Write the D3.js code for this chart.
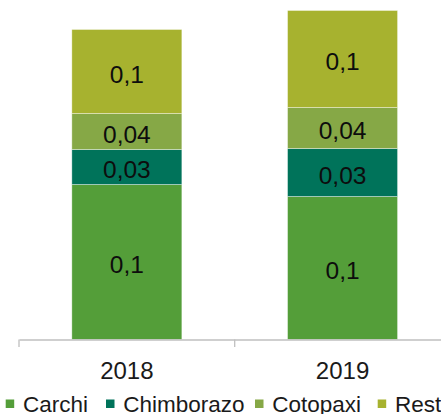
<!DOCTYPE html>
<html>
<head>
<meta charset="utf-8">
<script src="https://cdn.jsdelivr.net/npm/d3@7"></script>
<style>
  body { margin: 0; background: #fff; }
  svg { display: block; font-family: 'Century Gothic', 'Liberation Sans', Arial, sans-serif; }
</style>
</head>
<body>
<svg width="441" height="414"></svg>
<script>
const years = ['2018', '2019']
const series = ['Carchi', 'Chimborazo', 'Cotopaxi', 'Resto']
const carchi = [0.155, 0.143]
const chimborazo = [0.035, 0.048]
const cotopaxi = [0.036, 0.041]
const resto = [0.084, 0.097]
// data labels as printed on the chart
const carchiLabels = ['0,1', '0,1']
const chimborazoLabels = ['0,03', '0,03']
const cotopaxiLabels = ['0,04', '0,04']
const restoLabels = ['0,1', '0,1']

const colors = ['#549e39', '#00735a', '#86a846', '#a7b22f']

let svg = d3.select('svg')

let rows = years.map((y, i) => ({
  year: y,
  Carchi: carchi[i],
  Chimborazo: chimborazo[i],
  Cotopaxi: cotopaxi[i],
  Resto: resto[i]
}))
let labels = {
  Carchi: carchiLabels,
  Chimborazo: chimborazoLabels,
  Cotopaxi: cotopaxiLabels,
  Resto: restoLabels
}

let stacked = d3.stack().keys(series)(rows)

let x = d3.scaleBand()
    .domain(years)
    .range([19, 450.4])
    .padding(0)
let barW = x.bandwidth() * 0.51

let y = d3.scaleLinear()
    .domain([0, 0.33])
    .range([339.5, 9.5])

let color = d3.scaleOrdinal()
    .domain(series)
    .range(colors)

let layer = svg.append('g')
  .selectAll('g')
  .data(stacked)
  .enter().append('g')
    .attr('fill', d => color(d.key))

layer.selectAll('rect')
  .data(d => d.map((p, i) => ({ p: p, i: i, key: d.key })))
  .enter().append('rect')
    .attr('x', d => x(years[d.i]) + (x.bandwidth() - barW) / 2)
    .attr('width', barW)
    .attr('y', d => y(d.p[1]))
    .attr('height', d => y(d.p[0]) - y(d.p[1]))
    .attr('stroke', '#ffffff')
    .attr('stroke-opacity', 0.5)
    .attr('stroke-width', 0.75)

layer.selectAll('text')
  .data(d => d.map((p, i) => ({ p: p, i: i, key: d.key })))
  .enter().append('text')
    .attr('x', d => x(years[d.i]) + x.bandwidth() / 2)
    .attr('y', d => (y(d.p[0]) + y(d.p[1])) / 2)
    .attr('dy', '0.45em')
    .attr('text-anchor', 'middle')
    .attr('font-size', 24.5)
    .attr('fill', '#0d0d0d')
    .text(d => labels[d.key][d.i])

// category axis
let axis = svg.append('g')
    .attr('transform', 'translate(0,339.5)')
    .call(d3.axisBottom(x).tickSize(0).tickPadding(22))
axis.select('.domain').attr('stroke', '#bfbfbf').attr('stroke-width', 1.3)
axis.selectAll('text')
    .attr('font-size', 24)
    .attr('fill', '#1a1a1a')
    .attr('font-family', "'Century Gothic', 'Liberation Sans', Arial, sans-serif")

// ticks between categories
svg.append('g')
  .selectAll('line')
  .data(years.map(d => x(d)).concat([x.range()[1]]))
  .enter().append('line')
    .attr('x1', d => d)
    .attr('x2', d => d)
    .attr('y1', 339.5)
    .attr('y2', 347)
    .attr('stroke', '#bfbfbf')
    .attr('stroke-width', 1.3)

// legend
let legendX = [5.7, 106, 255, 377.7]
let legend = svg.append('g')
  .selectAll('g')
  .data(series)
  .enter().append('g')
    .attr('transform', (d, i) => 'translate(' + legendX[i] + ',399.5)')

legend.append('rect')
    .attr('width', 8.5)
    .attr('height', 8.5)
    .attr('fill', d => color(d))

legend.append('text')
    .attr('x', 17.2)
    .attr('y', 12.3)
    .attr('font-size', 22.5)
    .attr('fill', '#1a1a1a')
    .text(d => d)
</script>
</body>
</html>
